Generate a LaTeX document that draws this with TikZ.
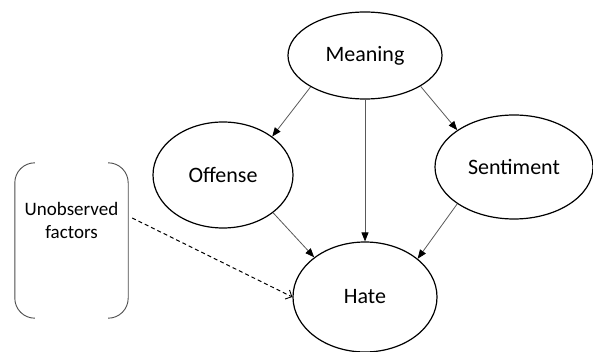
\documentclass[tikz,border=0pt]{standalone}
\usepackage{fontspec}
\setmainfont{Carlito}
\usetikzlibrary{shapes.geometric,arrows.meta}
\begin{document}
\begin{tikzpicture}[x=1pt,y=-1pt,
  var/.style={ellipse,draw=black,line width=1.2pt,inner sep=0pt,
    font=\fontsize{22}{24}\selectfont},
  link/.style={draw=black!65,line width=0.8pt,
    -{Triangle[length=9pt,width=7pt,fill=black,color=black]}},
  hidden/.style={draw=black,line width=1pt,dash pattern=on 4pt off 3pt,
    -{Straight Barb[length=5pt,width=10pt,line width=0.9pt]}},
  bracket/.style={draw=black!70,line width=0.9pt}]
\useasboundingbox (0,0) rectangle (593,352);

% variables of the causal graph
\node[var,minimum width=154pt,minimum height=87pt] (mean) at (365,55.5) {Meaning};
\node[var,minimum width=140pt,minimum height=106pt] (off) at (223,175) {Offense};
\node[var,minimum width=158pt,minimum height=104pt] (sent) at (514,167) {Sentiment};
\node[var,minimum width=144pt,minimum height=110pt] (hate) at (365,297) {Hate};

% unobserved factors, set between round brackets
\node[align=center,minimum width=113pt,minimum height=115pt,inner sep=0pt,
  font=\fontsize{19}{23}\selectfont] (unobs) at (71.5,220.5) {Unobserved\\factors};
\draw[bracket] ([xshift=20pt]unobs.north west) arc[start angle=90,end angle=180,radius=20pt]
  -- ([yshift=-20pt]unobs.south west) arc[start angle=180,end angle=270,radius=20pt];
\draw[bracket] ([xshift=-20pt]unobs.north east) arc[start angle=90,end angle=0,radius=20pt]
  -- ([yshift=-20pt]unobs.south east) arc[start angle=0,end angle=-90,radius=20pt];

% causal links
\draw[link] (mean.210.6) -- (off.38);
\draw[link] (mean.331.8) -- (sent.147);
\draw[link] (mean.south) -- (hate.north);
\draw[link] (off.323.5) -- (hate.142.4);
\draw[link] (sent.213.7) -- (hate.36.9);
\coordinate (u) at ([xshift=4pt,yshift=2.5pt]unobs.east);
\draw[hidden] (u) -- (hate.west);
\end{tikzpicture}
\end{document}
